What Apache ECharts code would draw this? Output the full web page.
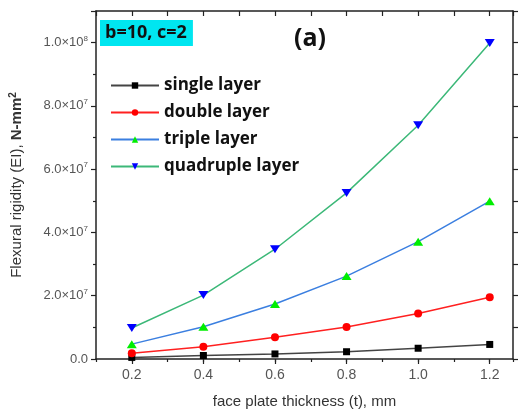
<!DOCTYPE html>
<html>
<head>
<meta charset="utf-8">
<script src="https://cdn.jsdelivr.net/npm/echarts@6/dist/echarts.min.js"></script>
<style>
	body{margin:0;background:#fff;}
	#rigiditychart{width:525px;height:416px;}
</style>
</head>
<body>
<div id="rigiditychart"></div>
<script>
	// face plate thickness (mm)
	var thickness = [0.2, 0.4, 0.6, 0.8, 1.0, 1.2];
	var seriesNames = ['single layer', 'double layer', 'triple layer', 'quadruple layer'];
	// flexural rigidity EI (N-mm2)
	var singleLayer = [0.05e7, 0.11e7, 0.16e7, 0.23e7, 0.34e7, 0.46e7];
	var doubleLayer = [0.18e7, 0.39e7, 0.69e7, 1.01e7, 1.44e7, 1.95e7];
	var tripleLayer = [0.47e7, 1.02e7, 1.74e7, 2.62e7, 3.71e7, 4.99e7];
	var quadrupleLayer = [0.98e7, 2.02e7, 3.47e7, 5.25e7, 7.39e7, 9.99e7];
	var xTickLabels = [0.2, 0.4, 0.6, 0.8, 1.0, 1.2];

	var mychart = echarts.init(document.getElementById('rigiditychart'));

	function pairs(ys){
		var ret = [];
		for(let i=0;i<thickness.length;i++){
			ret.push([thickness[i], ys[i]]);
		}
		return ret;
	}

	function scilabel(v){
		if(v === 0){
			return '{m|0.0}';
		}
		var e = Math.floor(Math.log10(v) + 1e-9);
		var m = v / Math.pow(10, e);
		return '{m|' + m.toFixed(1) + '×10}{e|' + e + '}';
	}

	var axisColor = '#222';
	var labelColor = '#555';
	var downTri = 'path://M0,0 L10,0 L5,9 Z';

	function makeSeries(name, ys, lineColor, markColor, symbol, size){
		return {
			name: name,
			type: 'line',
			xAxisIndex: 0,
			yAxisIndex: 0,
			data: pairs(ys),
			symbol: symbol,
			symbolSize: size,
			showAllSymbol: true,
			lineStyle: {color: lineColor, width: 1.5},
			itemStyle: {color: markColor},
			emphasis: {disabled: true}
		};
	}

	var option = {
		animation: false,
		grid: {left: 96, top: 11, right: 12, bottom: 57, containLabel: false},
		legend: {
			left: 110,
			top: 75,
			orient: 'vertical',
			itemWidth: 48,
			itemHeight: 8,
			itemGap: 6,
			padding: 0,
			textStyle: {
				fontFamily: 'Open Sans',
				fontWeight: 'bold',
				fontSize: 17,
				color: '#111',
				lineHeight: 21
			},
			data: seriesNames
		},
		graphic: [
			{
				type: 'text',
				left: 100,
				top: 20,
				style: {
					text: 'b=10, c=2',
					fontFamily: 'Open Sans',
					fontWeight: 'bold',
					fontSize: 18,
					fill: '#111',
					backgroundColor: '#00e6f0',
					padding: [4, 6, 4, 5]
				}
			},
			{
				type: 'text',
				left: 294,
				top: 26,
				style: {
					text: '(a)',
					fontFamily: 'Open Sans',
					fontWeight: 'bold',
					fontSize: 25,
					fill: '#111'
				}
			}
		],
		xAxis: [
			{
				// data axis with major ticks and labels
				type: 'value',
				position: 'bottom',
				min: 0.1,
				max: 1.265,
				name: 'face plate thickness (t), mm',
				nameLocation: 'middle',
				nameGap: 35,
				nameTextStyle: {fontFamily: 'Liberation Sans', fontSize: 15, color: '#333'},
				axisLine: {lineStyle: {color: axisColor, width: 1.5}},
				axisTick: {show: true, length: 5, customValues: xTickLabels, lineStyle: {color: axisColor, width: 1.2}},
				axisLabel: {
					customValues: xTickLabels,
					fontFamily: 'Liberation Sans',
					fontSize: 14,
					color: labelColor,
					margin: 9,
					formatter: function(v){ return v.toFixed(1); }
				},
				splitLine: {show: false}
			},
			{
				// top frame
				type: 'value',
				position: 'top',
				min: 0.1,
				max: 1.265,
				interval: 0.1,
				axisLine: {show: true, onZero: false, lineStyle: {color: axisColor, width: 1.5}},
				axisTick: {show: true, inside: true, length: 5, lineStyle: {color: axisColor, width: 1.2}},
				axisLabel: {show: false},
				splitLine: {show: false}
			},
			{
				// bottom minor ticks
				type: 'value',
				position: 'bottom',
				min: 0.1,
				max: 1.265,
				interval: 0.1,
				axisLine: {show: false},
				axisTick: {show: true, length: 3, lineStyle: {color: axisColor, width: 1.2}},
				axisLabel: {show: false},
				splitLine: {show: false}
			}
		],
		yAxis: [
			{
				type: 'value',
				position: 'left',
				min: 0,
				max: 1.1e8,
				interval: 2e7,
				name: '{a|Flexural rigidity (EI), }{b|N-mm}{s|2}',
				nameLocation: 'middle',
				nameGap: 70,
				nameTextStyle: {
					rich: {
						a: {fontFamily: 'Liberation Sans', fontSize: 15, color: '#333'},
						b: {fontFamily: 'Liberation Sans', fontSize: 15, fontWeight: 'bold', color: '#333'},
						s: {fontFamily: 'Liberation Sans', fontSize: 10, fontWeight: 'bold', color: '#333', padding: [0, 0, 8, 0]}
					}
				},
				axisLine: {show: true, onZero: false, lineStyle: {color: axisColor, width: 1.5}},
				axisTick: {show: true, length: 5, lineStyle: {color: axisColor, width: 1.2}},
				minorTick: {show: true, splitNumber: 2, length: 3, lineStyle: {color: axisColor, width: 1.2}},
				axisLabel: {
					margin: 8,
					showMaxLabel: false,
					formatter: scilabel,
					rich: {
						m: {fontFamily: 'Liberation Sans', fontSize: 13, color: labelColor},
						e: {fontFamily: 'Liberation Sans', fontSize: 8, color: labelColor, padding: [0, 0, 8, 0]}
					}
				},
				splitLine: {show: false}
			},
			{
				type: 'value',
				position: 'right',
				min: 0,
				max: 1.1e8,
				interval: 1e7,
				axisLine: {show: true, onZero: false, lineStyle: {color: axisColor, width: 1.5}},
				axisTick: {show: true, length: 5, lineStyle: {color: axisColor, width: 1.2}},
				axisLabel: {show: false},
				splitLine: {show: false}
			}
		],
		series: [
			makeSeries(seriesNames[0], singleLayer, '#444444', '#000000', 'rect', 7),
			makeSeries(seriesNames[1], doubleLayer, '#ff2020', '#ff0000', 'circle', 8),
			makeSeries(seriesNames[2], tripleLayer, '#3b7fe0', '#00ee00', 'triangle', [10, 8]),
			makeSeries(seriesNames[3], quadrupleLayer, '#3cb878', '#0000ff', downTri, [10, 8])
		]
	};

	mychart.setOption(option);
</script>
</body>
</html>
